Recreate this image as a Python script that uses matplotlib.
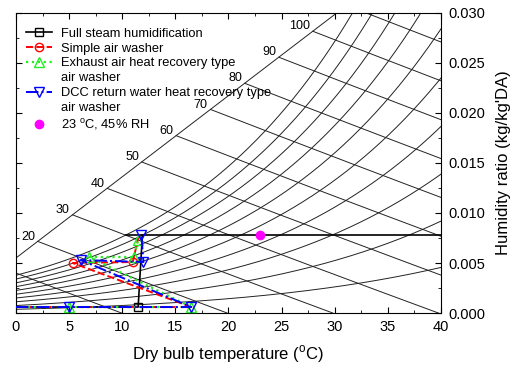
import numpy as np
import matplotlib.pyplot as plt
from matplotlib.lines import Line2D

plt.rcParams['font.family'] = ['Liberation Sans', 'DejaVu Sans']
plt.rcParams['mathtext.fontset'] = 'custom'
plt.rcParams['mathtext.rm'] = 'Liberation Sans'

# psychrometric background
rh_levels = [0.1, 0.2, 0.3, 0.4, 0.5, 0.6, 0.7, 0.8, 0.9, 1.0]
h_levels = [10, 20, 30, 40, 50, 60, 70, 80, 90, 100, 110]
h_labelled = [20, 30, 40, 50, 60, 70, 80, 90, 100]
boundary_t = [0.0, 30.2]
boundary_w = [0.0055, 0.030]

# process lines (dry bulb degC, humidity ratio kg/kg'DA)
steam_t = [0.0, 11.5, 11.9]
steam_w = [0.0006, 0.0006, 0.0078]
washer_t = [0.0, 16.5, 5.35, 11.0, 11.5]
washer_w = [0.0006, 0.0006, 0.0050, 0.0051, 0.0075]
exhaust_t = [0.0, 5.0, 16.5, 6.9, 11.1, 11.5]
exhaust_w = [0.0006, 0.0006, 0.0006, 0.0056, 0.0056, 0.0073]
dcc_t = [0.0, 5.0, 16.5, 6.1, 12.0, 11.8]
dcc_w = [0.0006, 0.0006, 0.0006, 0.0053, 0.0051, 0.0078]
target_t = [10.4, 40.0]
target_w = [0.0078, 0.0078]
room_t = [23.0]
room_w = [0.0078]


def p_sat(t):
    return 0.61094 * np.exp(17.625 * t / (t + 243.04))


fig = plt.figure(figsize=(5.14, 3.67), dpi=100)
ax = fig.add_axes([0.031, 0.147, 0.827, 0.818])

grid = dict(color='#222222', lw=0.7, zorder=1)
T = np.linspace(0, 40, 4001)
for rh in rh_levels:
    ps = p_sat(T)
    w = 0.622 * rh * ps / (101.325 - rh * ps)
    ax.plot(T, w, **grid)

slope = (boundary_w[1] - boundary_w[0]) / (boundary_t[1] - boundary_t[0])
wb = boundary_w[0] + (T - boundary_t[0]) * slope
ax.plot(boundary_t, boundary_w, **grid)
for h in h_levels:
    w = (h - 1.006 * T) / (2501 + 1.86 * T)
    ok = (w <= wb) & (w >= 0) & (w <= 0.030)
    ax.plot(T[ok], w[ok], **grid)
    if h in h_labelled:
        i = np.argmax(ok)
        ax.annotate(str(h), (T[i], w[i]), xytext=(-2, 3.5), textcoords='offset points',
                    ha='right', va='center', fontsize=9)

ax.plot(target_t, target_w, color='black', lw=1.2, zorder=2)

ms = 6
styles = [
    dict(ls='-', color='black', lw=1.2, marker='s', ms=5.5, mfc='none'),
    dict(ls='--', color='red', lw=1.4, marker='o', ms=ms, mfc='none'),
    dict(ls=':', color='#22ee22', lw=1.6, marker='^', ms=ms + 0.5, mfc='none'),
    dict(ls='-.', color='blue', lw=1.4, marker='v', ms=ms + 0.5, mfc='none'),
]
ax.plot(steam_t, steam_w, markevery=[1], zorder=3, **styles[0])
ax.plot(washer_t, washer_w, markevery=[2, 3], zorder=3, **styles[1])
ax.plot(exhaust_t, exhaust_w, markevery=[1, 2, 3, 4, 5], zorder=3, **styles[2])
ax.plot(dcc_t, dcc_w, markevery=[1, 2, 3, 4, 5], zorder=3, **styles[3])
ax.plot(room_t, room_w, 'o', color='magenta', ms=6, zorder=4)

ax.set_xlim(0, 40)
ax.set_ylim(0, 0.030)
ax.set_xticks(np.arange(0, 41, 5))
ax.set_xticks(np.arange(0, 40, 2.5), minor=True)
ax.set_yticks(np.arange(0, 0.0301, 0.005))
ax.set_yticks(np.arange(0, 0.030, 0.0025), minor=True)
ax.yaxis.set_major_formatter(plt.FormatStrFormatter('%.3f'))
ax.tick_params(which='both', direction='in', top=True, bottom=True, left=True,
               right=True, labelleft=False, labelright=True, labelsize=10.5)
ax.tick_params(which='major', length=4, pad=5)
ax.tick_params(which='minor', length=2.5)
ax.yaxis.set_label_position('right')
ax.set_xlabel('Dry bulb temperature ($^{\\rm o}$C)', fontsize=12, labelpad=7)
ax.set_ylabel("Humidity ratio (kg/kg'DA)", fontsize=12, labelpad=8)

# legend: second lines of the long labels get an empty handle
blank = Line2D([], [], ls='none')
handles = [Line2D([], [], **s) for s in styles]
handles = [handles[0], handles[1], handles[2], blank, handles[3], blank,
           Line2D([], [], ls='none', marker='o', color='magenta', ms=6)]
labels = ['Full steam humidification', 'Simple air washer',
          'Exhaust air heat recovery type', 'air washer',
          'DCC return water heat recovery type', 'air washer',
          '23 $^{\\rm o}$C, 45% RH']
ax.legend(handles, labels, loc='upper left', bbox_to_anchor=(0.0, 0.985),
          frameon=False, fontsize=9.3, handlelength=2.0, labelspacing=0.22,
          borderaxespad=0.4, handletextpad=0.7)

fig.savefig('out.png', dpi=100)
